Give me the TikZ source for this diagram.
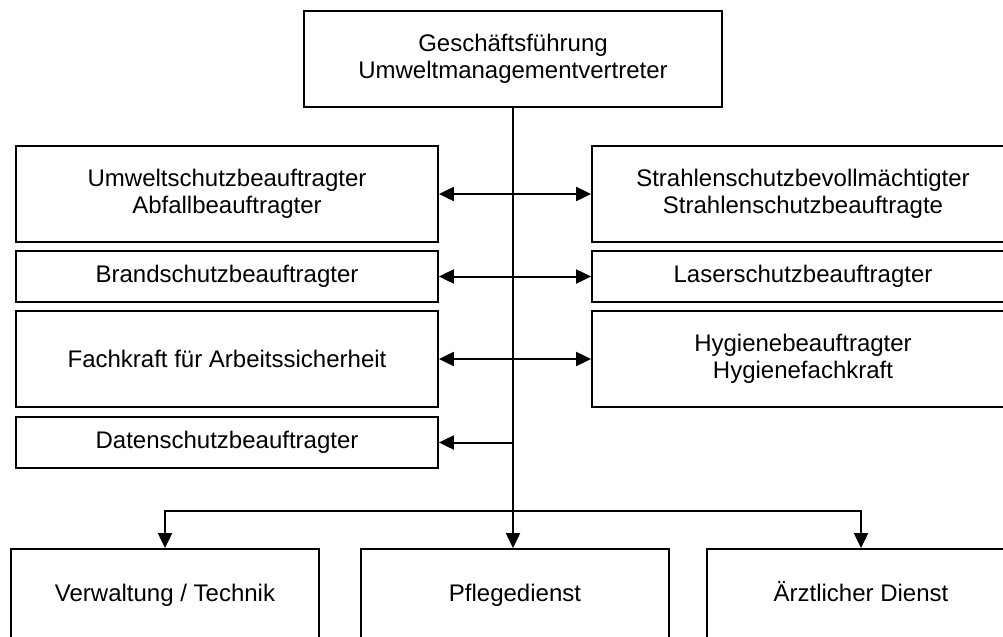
\documentclass[tikz,border=0pt]{standalone}
\usepackage{fontspec}
\setmainfont{Liberation Sans}
\usetikzlibrary{arrows.meta}

\tikzset{
  unit/.style={draw,line width=0.9pt,align=center,inner sep=0pt,font=\fontsize{12}{13.5}\selectfont},
  wide/.style={unit,minimum width=211pt},
  tall/.style={minimum height=48pt},
  flat/.style={minimum height=25.5pt},
  dept/.style={unit,minimum width=154pt,minimum height=46pt,text height=8.6pt,text depth=2.5pt},
}

\begin{document}
\begin{tikzpicture}[x=0.5pt,y=-0.5pt,line width=1pt,>={Triangle[length=7.5pt,width=7pt]}]
\useasboundingbox (0,0) rectangle (1003,637);
\node (gf) at (513,59) [unit,minimum width=209pt,minimum height=48pt] {Geschäftsführung\\Umweltmanagementvertreter};
\node (us) at (227,194) [wide,tall] {Umweltschutzbeauftragter\\Abfallbeauftragter};
\node (bs) at (227,276.5) [wide,flat] {Brandschutzbeauftragter};
\node (fa) at (227,359) [wide,tall] {Fachkraft für Arbeitssicherheit};
\node (ds) at (227,442.5) [wide,flat] {Datenschutzbeauftragter};
\node (ss) at (803,194) [wide,tall] {Strahlenschutzbevollmächtigter\\Strahlenschutzbeauftragte};
\node (ls) at (803,276.5) [wide,flat] {Laserschutzbeauftragter};
\node (hy) at (803,359) [wide,tall] {Hygienebeauftragter\\Hygienefachkraft};
\node (vt) at (165,595) [dept] {Verwaltung / Technik};
\node (pd) at (515,595) [dept] {Pflegedienst};
\node (ad) at (861,595) [dept] {Ärztlicher Dienst};
\coordinate (split) at (513,511);
\draw[->] (gf.south) -- (gf.south |- pd.north);
\draw[<->] (us) -- (ss);
\draw[<->] (bs) -- (ls);
\draw[<->] (fa) -- (hy);
\draw[->] (gf.south |- ds.east) -- (ds.east);
\draw[->] (split) -| (vt.north);
\draw[->] (split) -| (ad.north);
\end{tikzpicture}
\end{document}
